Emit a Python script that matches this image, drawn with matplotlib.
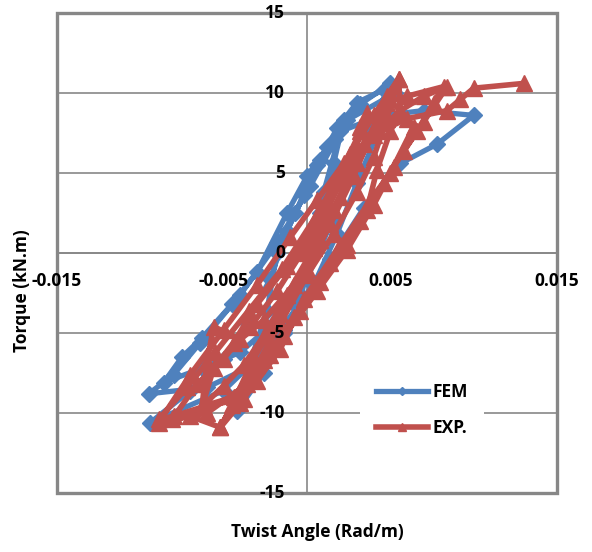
import matplotlib.pyplot as plt
from matplotlib.patches import Rectangle

plt.rcParams['font.family'] = ['Open Sans', 'DejaVu Sans']
plt.rcParams['font.weight'] = 'bold'
plt.rcParams['axes.unicode_minus'] = False

# FEM hysteresis loops (twist angle in rad/m, torque in kN.m)
fem_x = [0.0000, 0.0010, 0.0022, 0.0016, 0.0008, -0.0004, -0.0014, -0.0026, -0.0042,
         -0.0034, -0.0024, -0.0018, -0.0007, 0.0006, 0.0017, 0.0032, 0.0050,
         0.0040, 0.0028, 0.0015, 0.0000, -0.0018, -0.0040, -0.0063, -0.0086,
         -0.0075, -0.0063, -0.0045, -0.0030, -0.0012, 0.0000, 0.0012, 0.0024, 0.0053,
         0.0042, 0.0030, 0.0018, 0.0004, -0.0014, -0.0036, -0.0060, -0.0095,
         -0.0080, -0.0064, -0.0040, -0.0018, 0.0002, 0.0020, 0.0045, 0.0070, 0.0100,
         0.0078, 0.0056, 0.0034, 0.0014, -0.0006, -0.0026, -0.0050, -0.0094,
         -0.0070, -0.0050, -0.0036, -0.0022, -0.0012, -0.0002, 0.0008, 0.0018,
         0.0030, 0.0046]
fem_y = [0.0, 3.8, 8.3, 5.6, 2.5, -2.9, -5.0, -7.5, -9.9,
         -6.8, -3.6, 0.0, 2.5, 5.5, 7.1, 9.3, 10.6,
         8.3, 5.2, 2.0, -1.6, -4.2, -6.2, -7.2, -8.1,
         -6.5, -5.3, -3.2, -1.2, 2.5, 4.8, 6.6, 8.3, 10.0,
         7.4, 4.4, 1.2, -2.0, -4.8, -7.2, -8.4, -8.8,
         -7.6, -5.6, -2.6, 0.6, 4.2, 7.6, 8.6, 8.9, 8.6,
         6.8, 5.6, 2.8, -0.4, -3.4, -6.2, -8.6, -10.6,
         -8.6, -6.6, -4.4, -1.6, 1.4, 3.6, 5.8, 7.8,
         9.4, 10.2]

# Experimental hysteresis loops
exp_x = [0.0000, 0.0012, 0.0024, 0.0036, 0.0032, 0.0028, 0.0020, 0.0008,
         -0.0008, -0.0026, -0.0040, -0.0056, -0.0060, -0.0063, -0.0050, -0.0038,
         -0.0026, -0.0012, 0.0004, 0.0016, 0.0030, 0.0042, 0.0055, 0.0056,
         0.0050, 0.0042, 0.0036, 0.0024, 0.0008, -0.0008, -0.0026, -0.0040,
         -0.0052, -0.0045, -0.0032, -0.0016, 0.0000, 0.0014, 0.0028, 0.0040,
         0.0048, 0.0064, 0.0050, 0.0038, 0.0020, -0.0002, -0.0016, -0.0030,
         -0.0038, -0.0062, -0.0080, -0.0089, -0.0072, -0.0055, -0.0035, -0.0015,
         0.0006, 0.0020, 0.0032, 0.0048, 0.0060, 0.0082, 0.0076, 0.0066,
         0.0052, 0.0040, 0.0024, 0.0006, -0.0014, -0.0036, -0.0060, -0.0081,
         -0.0066, -0.0050, -0.0034, -0.0018, -0.0002, 0.0012, 0.0026, 0.0040,
         0.0055, 0.0048, 0.0040, 0.0030, 0.0016, 0.0000, -0.0016, -0.0030,
         -0.0044, -0.0063, -0.0056, -0.0044, -0.0030, -0.0012, 0.0004, 0.0018,
         0.0034, 0.0056, 0.0070, 0.0084, 0.0070, 0.0058, 0.0046, 0.0032,
         0.0014, -0.0004, -0.0022, -0.0040, -0.0052, -0.0070, -0.0089, -0.0070,
         -0.0050, -0.0030, -0.0010, 0.0006, 0.0022, 0.0040, 0.0060, 0.0084,
         0.0092, 0.0100, 0.0130]
exp_y = [0.0, 2.7, 5.2, 8.75, 7.9, 5.8, 3.5, 0.8,
         -2.0, -4.2, -5.4, -4.6, -6.8, -9.6, -8.3, -7.0,
         -5.2, -2.6, 0.3, 2.7, 5.6, 7.8, 10.9, 8.9,
         7.6, 5.2, 2.7, 0.5, -1.8, -4.0, -6.7, -8.6,
         -10.9, -9.5, -6.6, -3.8, -1.0, 1.8, 4.8, 7.8,
         9.8, 7.9, 5.0, 3.3, 0.5, -2.9, -6.0, -8.0,
         -9.1, -9.6, -10.2, -10.4, -8.4, -6.2, -3.6, -1.0,
         2.4, 5.0, 7.6, 9.4, 9.8, 10.4, 9.4, 7.6,
         5.4, 3.0, 0.2, -2.4, -5.2, -8.2, -10.0, -10.4,
         -8.2, -6.6, -4.6, -2.4, 0.2, 3.2, 6.2, 8.6,
         10.9, 8.4, 6.0, 3.8, 1.2, -1.4, -4.4, -7.0,
         -9.0, -9.6, -7.2, -5.6, -3.2, -0.8, 1.8, 4.4,
         6.8, 8.9, 9.8, 10.4, 8.2, 6.4, 4.4, 2.0,
         -0.6, -3.6, -6.4, -9.4, -10.9, -10.2, -10.6, -7.6,
         -4.8, -2.0, 1.0, 3.3, 5.6, 7.4, 8.4, 8.9,
         9.6, 10.3, 10.6]

x_ticks = [-0.015, -0.005, 0.005, 0.015]
y_ticks = [-15, -10, -5, 0, 5, 10, 15]

blue = '#4F81BD'
red = '#C0504D'
grid_gray = '#878787'

fig = plt.figure(figsize=(5.92, 5.52), dpi=100)
ax = fig.add_axes([57 / 592, 1 - 493 / 552, 500 / 592, 480 / 552])

ax.plot(fem_x, fem_y, color=blue, lw=3.8, marker='D', ms=8,
        label='FEM', zorder=3, solid_joinstyle='round')
ax.plot(exp_x, exp_y, color=red, lw=4.0, marker='^', ms=12,
        label='EXP.', zorder=4, solid_joinstyle='round')

ax.set_xlim(-0.015, 0.015)
ax.set_ylim(-15, 15)

# axes cross at the origin, outer frame drawn separately
ax.spines['left'].set_position(('data', 0))
ax.spines['bottom'].set_position(('data', 0))
for side in ['top', 'right']:
    ax.spines[side].set_visible(False)
for side in ['left', 'bottom']:
    ax.spines[side].set_color(grid_gray)
    ax.spines[side].set_linewidth(1.2)
ax.add_patch(Rectangle((0, 0), 1, 1, transform=ax.transAxes, fill=False,
                       ec=grid_gray, lw=2.4, clip_on=False, zorder=5))

ax.set_xticks(x_ticks)
ax.set_yticks(y_ticks)
ax.tick_params(axis='both', length=0, labelbottom=False, labelleft=False)
ax.grid(axis='y', color=grid_gray, lw=1.2, zorder=1)
ax.set_axisbelow(True)

# tick labels sit next to the crossing axes, above the data
for t in x_ticks:
    ax.annotate(f'{t:g}', (t, 0), xytext=(0, -20), textcoords='offset points',
                ha='center', va='center', fontsize=12.5, fontweight='bold',
                zorder=10, annotation_clip=False)
for v in y_ticks:
    ax.annotate(f'{v}', (0, v), xytext=(-16, 0), textcoords='offset points',
                ha='right', va='center', fontsize=12.5, fontweight='bold',
                zorder=10, annotation_clip=False)

fig.text(22 / 592, 1 - 291 / 552, 'Torque (kN.m)', rotation=90, fontsize=12.5,
         fontweight='bold', ha='center', va='center')
fig.text(317 / 592, 1 - 532 / 552, 'Twist Angle (Rad/m)', fontsize=12.5,
         fontweight='bold', ha='center', va='center')

leg = ax.legend(loc='center', bbox_to_anchor=(422 / 592, 1 - 410 / 552),
                bbox_transform=fig.transFigure, frameon=True, fancybox=False,
                edgecolor='none', facecolor='white', framealpha=1,
                markerscale=0.5, handlelength=3.0, handletextpad=0.3,
                labelspacing=1.0, fontsize=12.5, borderpad=0.9)
leg.set_zorder(6)

fig.savefig('out.png', dpi=100)
